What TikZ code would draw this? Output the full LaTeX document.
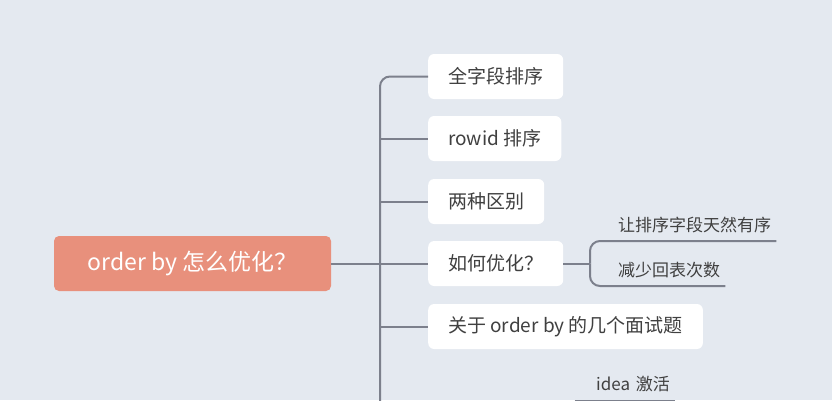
\documentclass[tikz,border=0pt]{standalone}
\usepackage{fontspec}
\setmainfont{Noto Sans CJK SC}
\definecolor{bgcol}{HTML}{E4E9F0}
\definecolor{rootcol}{HTML}{E8907C}
\definecolor{linecol}{HTML}{7C808C}
\definecolor{txtcol}{HTML}{404040}
\tikzset{
  topic/.style={fill=rootcol, text=white, rounded corners=5pt, minimum width=277pt,
    minimum height=55pt, font=\fontsize{23}{26}\selectfont},
  branch/.style={fill=white, text=txtcol, rounded corners=6pt, inner xsep=20pt,
    minimum height=45pt, anchor=west, font=\fontsize{19}{22}\selectfont},
  leaf/.style={text=txtcol, inner xsep=5pt, inner ysep=8pt, font=\fontsize{17}{20}\selectfont},
  conn/.style={draw=linecol, line width=2pt}
}
\begin{document}
\begin{tikzpicture}[x=1pt,y=-1pt]
  \useasboundingbox[fill=bgcol] (0,0) rectangle (832,400);
  \node[topic] (root) at (192.5,263.5) {order by 怎么优化？};
  \node[branch] (full) at (428,76.5) {全字段排序};
  \node[branch] (rowid) at (428,138.5) {rowid 排序};
  \node[branch] (diff) at (428,201.5) {两种区别};
  \node[branch] (howto) at (428,263.5) {如何优化？};
  \node[branch] (quiz) at (428,326.5) {关于 order by 的几个面试题};
  \node[leaf, anchor=south west] (natural) at (613,241) {让排序字段天然有序};
  \node[leaf, anchor=south west] (fewer) at (613,286) {减少回表次数};
  \node[leaf, anchor=south east, text width=90pt, align=right] (idea) at (675,400.5) {idea 激活};
  \coordinate (trunk) at (380,402);
  \coordinate (fork) at (590,263.5);

  \draw[conn, rounded corners=10pt] (full.west) -| (trunk);
  \path[conn]
    (root.east) edge (howto.west)
    (trunk |- rowid.west) edge (rowid.west)
    (trunk |- diff.west) edge (diff.west)
    (trunk |- quiz.west) edge (quiz.west)
    (howto.east) edge (fork)
    (idea.south west) edge (idea.south east);
  \draw[conn, rounded corners=10pt] (fork) |- (natural.south east);
  \draw[conn, rounded corners=10pt] (fork) |- (fewer.south east);
\end{tikzpicture}
\end{document}
